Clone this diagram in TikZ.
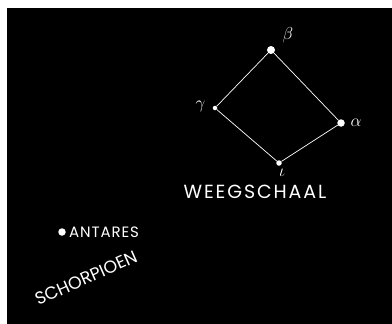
\documentclass[tikz,border=0pt]{standalone}
\usepackage{fontspec}
\setmainfont{Poppins}
\usetikzlibrary{positioning}

\begin{document}
\begin{tikzpicture}[x=1pt,y=-1pt,node distance=2pt]
% Define styles
\tikzstyle{bright}=[circle, fill=white, inner sep=0pt, minimum size=7.5pt]
\tikzstyle{faint}=[circle, fill=white, inner sep=0pt, minimum size=4.5pt]
\tikzstyle{greek}=[text=white, inner sep=1pt, font=\fontsize{17}{19}\selectfont]
\tikzstyle{cname}=[text=white, inner sep=0pt]
\tikzstyle{link}=[white, line width=0.7pt]
% Sky
\useasboundingbox (0,0) rectangle (392,324);
\fill[black] (7,8) rectangle (392,324);
% Place nodes
\node[bright, minimum size=8pt] (beta) at (271,50) {};
\node[faint] (gamma) at (215,108) {};
\node[bright] (alpha) at (341,123) {};
\node[faint, minimum size=5.5pt] (iota) at (279,163) {};
\node[bright] (antares) at (62,232) {};
\node[greek, above right=3pt and 7.5pt of beta] (lbeta) {$\beta$};
\node[greek, left=6pt of gamma, yshift=2pt] (lgamma) {$\gamma$};
\node[greek, right=4.5pt of alpha] (lalpha) {$\alpha$};
\node[greek, below=1.5pt of iota, xshift=3pt] (liota) {$\iota$};
\node[cname, font=\fontsize{19}{21}\selectfont\addfontfeature{LetterSpace=10}] (weeg) at (255,191.5) {WEEGSCHAAL};
\node[cname, font=\fontsize{15}{17}\selectfont\addfontfeature{LetterSpace=6}, right=3pt of antares] (ant) {ANTARES};
\node[cname, font=\fontsize{17.5}{19}\selectfont, rotate=24] (schorp) at (86,278) {SCHORPIOEN};
% Draw lines
\draw[link] (beta) -- (alpha) -- (iota) -- (gamma) -- (beta);
\end{tikzpicture}
\end{document}
